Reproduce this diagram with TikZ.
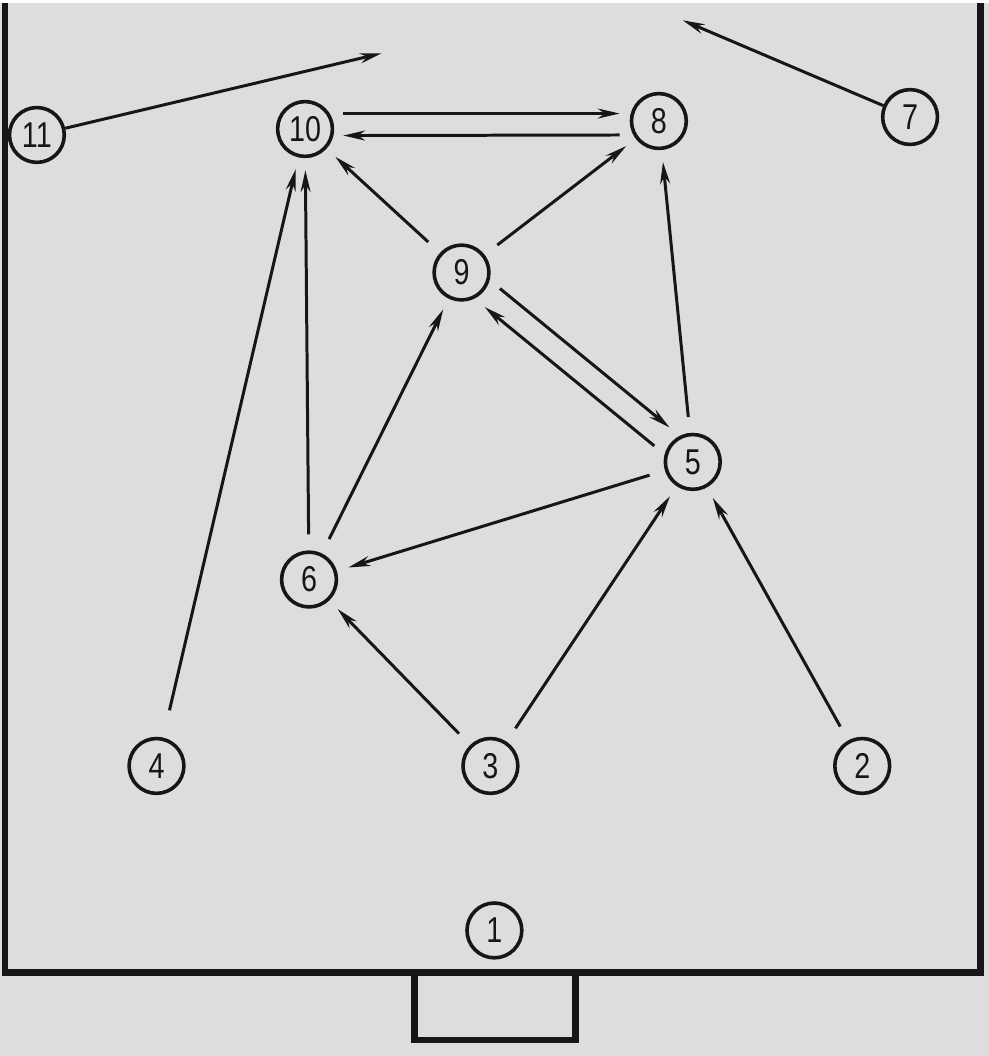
\documentclass[tikz,border=0pt]{standalone}
\usepackage{fontspec}
\setmainfont[FakeStretch=0.8]{Liberation Sans}
\usetikzlibrary{arrows.meta,calc}
\definecolor{paper}{RGB}{221,221,221}
\definecolor{ink}{RGB}{22,22,22}

\begin{document}
\begin{tikzpicture}[x=0.5pt,y=0.5pt,yscale=-1,
	player/.style={circle,draw=ink,line width=1.8pt,minimum size=27.5pt,inner sep=0pt,text=ink,font=\fontsize{18}{18}\selectfont},
	pass/.style={draw=ink,line width=1.5pt,-{Stealth[length=11pt,width=5pt]},shorten <=8pt,shorten >=6pt},
	fieldline/.style={draw=ink,line width=3.4pt}]
	\fill[paper] (0,0) rectangle (992,1056);
	\draw[fieldline] (5,0) -- (5,972) -- (984,972) -- (984,0);
	\draw[fieldline] (416,972) -- (416,1040) -- (577,1040) -- (577,972);

	\node[player] (n1) at (496,930) {1};
	\node[player] (n2) at (865,765) {2};
	\node[player] (n3) at (492,765) {3};
	\node[player] (n4) at (157,765) {4};
	\node[player] (n5) at (695,460) {5};
	\node[player] (n6) at (310,578) {6};
	\node[player] (n7) at (913,114) {7};
	\node[player] (n8) at (661,118) {8};
	\node[player] (n9) at (463,270) {9};
	\node[player] (n10) at (306,126) {10};
	\node[player] (n11) at (37,132) {11};
	\coordinate (t11) at (383,50);
	\coordinate (t7) at (685,17);

	\draw[pass,shorten <=0pt,shorten >=0pt] (n11) -- (t11);
	\draw[pass,shorten <=0pt,shorten >=0pt] (n7) -- (t7);
	\draw[pass,shorten <=4.5pt,shorten >=5pt] ([yshift=-7.75pt]n10.east) -- ([yshift=-3.75pt]n8.west);
	\draw[pass,shorten <=5pt,shorten >=4.5pt] ([yshift=7pt]n8.west) -- ([yshift=3.3pt]n10.east);
	\draw[pass,shorten <=20pt,shorten >=20pt] ($(n9)!6pt!-90:(n5)$) -- ($(n5)!6pt!90:(n9)$);
	\draw[pass,shorten <=20pt,shorten >=20pt] ($(n5)!6pt!-90:(n9)$) -- ($(n9)!6pt!90:(n5)$);
	\draw[pass] (n9) -- (n10);
	\draw[pass] (n9) -- (n8);
	\draw[pass] (n5) -- (n8);
	\draw[pass] (n5) -- (n6);
	\draw[pass] (n6) -- (n10);
	\draw[pass] (n6) -- (n9);
	\draw[pass,shorten <=14pt] (n4) -- (n10);
	\draw[pass] (n3) -- (n6);
	\draw[pass] (n3) -- (n5);
	\draw[pass] (n2) -- (n5);
\end{tikzpicture}
\end{document}
